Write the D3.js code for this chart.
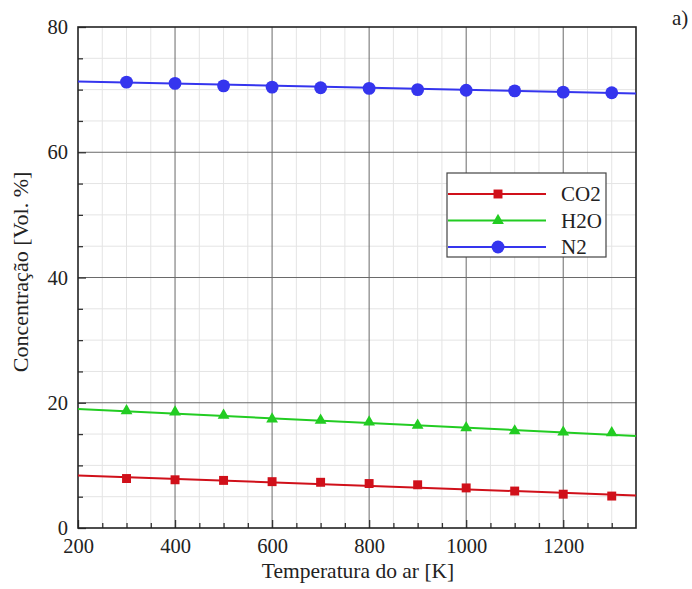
<!DOCTYPE html>
<html><head><meta charset="utf-8">
<script src="https://cdn.jsdelivr.net/npm/d3@7"></script>
<style>body{margin:0;background:#fff}svg{display:block}</style>
</head><body><svg id="c" width="692" height="589"></svg>
<script>
const temps = [300,400,500,600,700,800,900,1000,1100,1200,1300];
const co2 = [7.9,7.7,7.6,7.4,7.3,7.1,6.9,6.4,5.9,5.4,5.1];
const h2o = [18.7,18.5,18.0,17.4,17.2,16.9,16.4,16.0,15.5,15.3,15.2];
const n2  = [71.2,71.0,70.6,70.4,70.3,70.2,70.0,69.9,69.8,69.6,69.5];
const fitT = [200,1350];
const co2Fit = [8.4,5.2];
const h2oFit = [19.0,14.7];
const n2Fit = [71.3,69.4];
const xTicks = [200,400,600,800,1000,1200];
const yTicks = [0,20,40,60,80];
const seriesNames = ["CO2","H2O","N2"];
const colors = ["#d0101a","#22cc22","#3535ee"];

const FONT = "Liberation Serif";
const svg = d3.select("#c").style("font-family",FONT);
const L=78,R=636,T=27,B=528;
const x = d3.scaleLinear().domain([200,1350]).range([L,R]);
const y = d3.scaleLinear().domain([0,80]).range([B,T]);
const fs = 20.5;

// minor grid
const xMinor = d3.range(250,1350,50).filter(v=>v%200!==0);
const yMinor = d3.range(5,80,5).filter(v=>v%20!==0);
svg.append("g").selectAll("line").data(xMinor).join("line")
  .attr("x1",d=>x(d)).attr("x2",d=>x(d)).attr("y1",T).attr("y2",B)
  .attr("stroke","#e4e4e4").attr("stroke-width",1);
svg.append("g").selectAll("line").data(yMinor).join("line")
  .attr("y1",d=>y(d)).attr("y2",d=>y(d)).attr("x1",L).attr("x2",R)
  .attr("stroke","#e4e4e4").attr("stroke-width",1);
// major grid
svg.append("g").selectAll("line").data(xTicks.filter(v=>v>200)).join("line")
  .attr("x1",d=>x(d)).attr("x2",d=>x(d)).attr("y1",T).attr("y2",B)
  .attr("stroke","#6a6a6a").attr("stroke-width",1);
svg.append("g").selectAll("line").data(yTicks.filter(v=>v>0&&v<80)).join("line")
  .attr("y1",d=>y(d)).attr("y2",d=>y(d)).attr("x1",L).attr("x2",R)
  .attr("stroke","#6a6a6a").attr("stroke-width",1);

// axes
const xAxis = d3.axisBottom(x).tickValues(xTicks).tickFormat(d3.format("d")).tickSizeInner(-8).tickSizeOuter(0).tickPadding(14);
const gx = svg.append("g").attr("transform",`translate(0,${B})`).call(xAxis);
const xMinAxis = d3.axisBottom(x).tickValues(xMinor).tickSizeInner(-5).tickSizeOuter(0).tickFormat("");
svg.append("g").attr("transform",`translate(0,${B})`).call(xMinAxis).select(".domain").remove();
const yAxis = d3.axisLeft(y).tickValues(yTicks).tickFormat(d3.format("d")).tickSizeInner(-8).tickSizeOuter(0).tickPadding(12);
const gy = svg.append("g").attr("transform",`translate(${L},0)`).call(yAxis);
const yMinAxis = d3.axisLeft(y).tickValues(yMinor).tickSizeInner(-5).tickSizeOuter(0).tickFormat("");
svg.append("g").attr("transform",`translate(${L},0)`).call(yMinAxis).select(".domain").remove();
svg.selectAll("g").attr("font-family",FONT).style("font-family",FONT);
svg.selectAll(".tick text").style("font-family",FONT).attr("font-size",fs).attr("fill","#222");
svg.selectAll(".tick line").attr("stroke","#333").attr("stroke-width",1.3);
svg.selectAll(".domain").remove();
gx.selectAll(".tick text").attr("dy","0.55em");
gy.selectAll(".tick text").attr("x",-10);

// frame
svg.append("rect").attr("x",L).attr("y",T).attr("width",R-L).attr("height",B-T)
  .attr("fill","none").attr("stroke","#222").attr("stroke-width",1.6);

const all = [co2,h2o,n2];
const fits = [co2Fit,h2oFit,n2Fit];
const line = d3.line().x(d=>x(d[0])).y(d=>y(d[1]));
const sym = [d3.symbolSquare,d3.symbolTriangle,d3.symbolCircle];
const symSize = [80,60,130];

all.forEach((vals,i)=>{
  svg.append("path").datum(fitT.map((t,j)=>[t,fits[i][j]]))
    .attr("d",line).attr("fill","none").attr("stroke",colors[i]).attr("stroke-width",2);
  svg.append("g").selectAll("path").data(temps.map((t,j)=>[t,vals[j]])).join("path")
    .attr("transform",d=>`translate(${x(d[0])},${y(d[1])})`)
    .attr("d",d3.symbol().type(sym[i]).size(symSize[i])).attr("fill",colors[i]);
});

// legend
const lg = svg.append("g");
lg.append("rect").attr("x",447).attr("y",173).attr("width",159).attr("height",84)
  .attr("fill","#fff").attr("stroke","#444").attr("stroke-width",1.2);
seriesNames.forEach((n,i)=>{
  const yy = 194 + i*26.5;
  lg.append("line").attr("x1",448).attr("x2",546).attr("y1",yy).attr("y2",yy)
    .attr("stroke",colors[i]).attr("stroke-width",2);
  lg.append("path").attr("transform",`translate(498,${yy})`)
    .attr("d",d3.symbol().type(sym[i]).size(symSize[i])).attr("fill",colors[i]);
  lg.append("text").attr("x",561).attr("y",yy).attr("dy","0.35em")
    .style("font-family",FONT).attr("font-size",21).attr("fill","#222").text(n);
});

// titles
svg.append("text").attr("x",358).attr("y",578).attr("text-anchor","middle")
  .style("font-family",FONT).attr("font-size",21.5).attr("fill","#222").text("Temperatura do ar [K]");
svg.append("text").attr("transform","translate(28,272) rotate(-90)").attr("text-anchor","middle")
  .style("font-family",FONT).attr("font-size",22).attr("fill","#222").text("Concentração [Vol. %]");
svg.append("text").attr("x",672).attr("y",25)
  .style("font-family",FONT).attr("font-size",21).attr("fill","#222").text("a)");
</script></body></html>
